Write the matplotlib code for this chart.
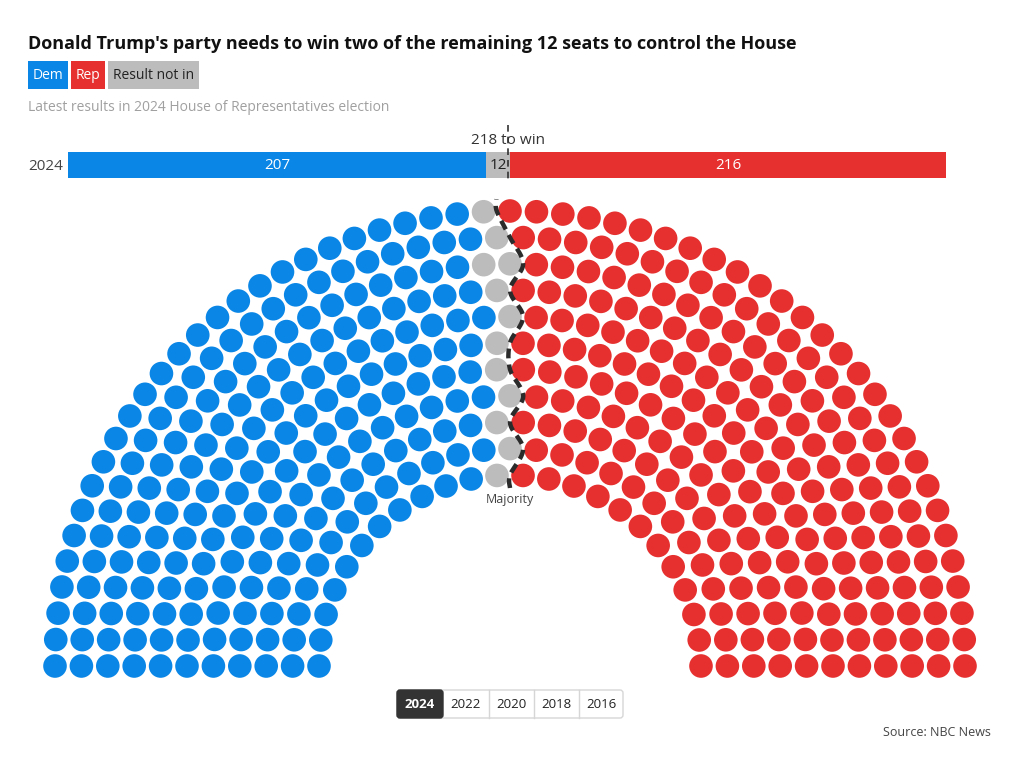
import numpy as np
import matplotlib
matplotlib.use('Agg')
import matplotlib.pyplot as plt
from matplotlib.patches import Circle, Rectangle, FancyBboxPatch

# ---------------- data ----------------
seat_order = ['Dem', 'Result not in', 'Rep']          # left-to-right order
seats = {'Dem': 207, 'Result not in': 12, 'Rep': 216}
colors = {'Dem': '#0a86e6', 'Rep': '#e5302f', 'Result not in': '#bcbcbc'}
majority = 218
bar_year = '2024'
years = ['2024', '2022', '2020', '2018', '2016']
active_year = '2024'
row_counts = [24, 27, 30, 33, 36, 40, 43, 46, 49, 52, 55]   # seats per row, inner -> outer
title = "Donald Trump's party needs to win two of the remaining 12 seats to control the House"
subtitle = "Latest results in 2024 House of Representatives election"
source = "Source: NBC News"

total = sum(seats.values())
FONT = ['Open Sans', 'DejaVu Sans']
plt.rcParams['font.family'] = FONT

W, H = 1020, 768
fig = plt.figure(figsize=(W / 100, H / 100), dpi=100)
ax = fig.add_axes([0, 0, 1, 1])
ax.set_xlim(0, W)
ax.set_ylim(H, 0)
ax.set_aspect('equal')
ax.axis('off')

# ---------------- title & legend ----------------
ax.text(28, 44, title, fontsize=13, fontweight='bold', color='#111111', va='center', ha='left')

leg_boxes = [('Dem', 28, 68, 'white'), ('Rep', 71, 105, 'white'), ('Result not in', 108, 199, '#222222')]
for name, x0, x1, tc in leg_boxes:
    ax.add_patch(Rectangle((x0, 61), x1 - x0, 28, facecolor=colors[name], edgecolor='none'))
    ax.text((x0 + x1) / 2, 75.5, name, fontsize=10, color=tc, ha='center', va='center')

ax.text(28, 107.5, subtitle, fontsize=10, color='#a0a0a0', ha='left', va='center')

# ---------------- top bar ----------------
bx0, bx1, by0, by1 = 68, 946, 152, 178
unit = (bx1 - bx0) / total
cur = bx0
text_cols = {'Dem': 'white', 'Rep': 'white', 'Result not in': '#222222'}
for name in seat_order:
    w = seats[name] * unit
    ax.add_patch(Rectangle((cur, by0), w, by1 - by0, facecolor=colors[name], edgecolor='none'))
    ax.text(cur + w / 2, (by0 + by1) / 2 + 0.5, str(seats[name]), fontsize=11, color=text_cols[name],
            ha='center', va='center')
    cur += w
ax.text(28, 166, bar_year, fontsize=11, color='#444444', ha='left', va='center')
mx = bx0 + majority * unit
ax.plot([mx, mx], [125, 180], color='#333333', lw=1.2, dashes=(4, 3))
ax.text(mx, 141, f"{majority} to win", fontsize=11, color='#333333', ha='center', va='center')

# ---------------- hemicycle ----------------
cx, cy = 510, 666
r_in, r_out = 191, 455
seat_r = 11.8
radii = np.linspace(r_in, r_out, len(row_counts))

pts = []
for i, (r, n) in enumerate(zip(radii, row_counts)):
    for j in range(n):
        th = np.pi * (1 - j / (n - 1))
        pts.append((th, r, i))
pts.sort(key=lambda p: (-round(p[0], 9), p[1]))

labels = []
for name in seat_order:
    labels += [name] * seats[name]

for (th, r, i), name in zip(pts, labels):
    x = cx + r * np.cos(th)
    y = cy - r * np.sin(th)
    ax.add_patch(Circle((x, y), seat_r, facecolor=colors[name], edgecolor='none'))

# majority boundary line (between Rep and the rest)
row_pts = []
for i, r in enumerate(radii):
    left = [p[0] for p, l in zip(pts, labels) if p[2] == i and l != 'Rep']
    right = [p[0] for p, l in zip(pts, labels) if p[2] == i and l == 'Rep']
    th = (min(left) + max(right)) / 2
    row_pts.append((r, th))
r0, t0 = row_pts[0]
rN, tN = row_pts[-1]
ctrl = [(r0 - 13, t0)] + row_pts + [(rN + 12, tN)]
P = np.array([[cx + r * np.cos(t), cy - r * np.sin(t)] for r, t in ctrl])
Pp = np.vstack([P[0], P, P[-1]])
curve = []
for k in range(1, len(Pp) - 2):
    p0, p1, p2, p3 = Pp[k - 1], Pp[k], Pp[k + 1], Pp[k + 2]
    for t in np.linspace(0, 1, 12, endpoint=False):
        t2, t3 = t * t, t * t * t
        c = 0.5 * ((2 * p1) + (-p0 + p2) * t + (2 * p0 - 5 * p1 + 4 * p2 - p3) * t2
                   + (-p0 + 3 * p1 - 3 * p2 + p3) * t3)
        curve.append(c)
curve.append(P[-1])
curve = np.array(curve)
ax.plot(curve[:, 0], curve[:, 1], color='#2b2b2b', lw=3.2, dashes=(2.2, 1.4), solid_capstyle='butt')
ax.text(510, 500, 'Majority', fontsize=9, color='#444444', ha='center', va='center')

# ---------------- year buttons ----------------
edges = [397, 443, 489, 534, 579, 623]
byt, byb = 690, 718
ax.add_patch(FancyBboxPatch((edges[0], byt), edges[-1] - edges[0], byb - byt,
                            boxstyle='round,pad=0,rounding_size=3', facecolor='white',
                            edgecolor='#d6d6d6', lw=1))
for k, yr in enumerate(years):
    x0, x1 = edges[k], edges[k + 1]
    if yr == active_year:
        ax.add_patch(FancyBboxPatch((x0, byt), x1 - x0, byb - byt,
                                    boxstyle='round,pad=0,rounding_size=3', facecolor='#333333',
                                    edgecolor='#333333', lw=1))
        ax.text((x0 + x1) / 2, (byt + byb) / 2, yr, fontsize=9.5, color='white', fontweight='bold',
                ha='center', va='center')
    else:
        if k > 0 and years[k - 1] != active_year:
            ax.plot([x0, x0], [byt, byb], color='#d6d6d6', lw=1)
        ax.text((x0 + x1) / 2, (byt + byb) / 2, yr, fontsize=9.5, color='#222222',
                ha='center', va='center')

ax.text(991, 732, source, fontsize=9, color='#444444', ha='right', va='center')

fig.savefig('out.png', dpi=100, facecolor='white')
